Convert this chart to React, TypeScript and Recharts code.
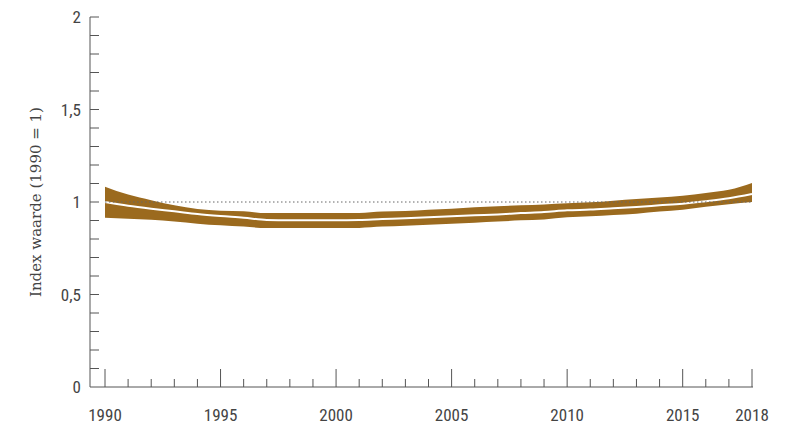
import React from 'react'
import {
  ComposedChart, Area, Line, XAxis, YAxis, ReferenceLine,
} from 'recharts'

const years = [
  1990, 1991, 1992, 1993, 1994, 1995, 1996, 1997, 1998, 1999,
  2000, 2001, 2002, 2003, 2004, 2005, 2006, 2007, 2008, 2009,
  2010, 2011, 2012, 2013, 2014, 2015, 2016, 2017, 2018,
]
const upper = [
  1.083, 1.04, 1.01, 0.982, 0.962, 0.953, 0.95, 0.94, 0.94, 0.94,
  0.94, 0.94, 0.948, 0.951, 0.958, 0.964, 0.971, 0.977, 0.982, 0.987,
  0.993, 0.998, 1.007, 1.016, 1.025, 1.034, 1.049, 1.066, 1.103,
]
const central = [
  1.0, 0.98, 0.964, 0.95, 0.935, 0.924, 0.915, 0.903, 0.901, 0.901,
  0.901, 0.903, 0.908, 0.912, 0.917, 0.923, 0.928, 0.933, 0.94, 0.946,
  0.955, 0.959, 0.966, 0.973, 0.982, 0.991, 1.004, 1.02, 1.043,
]
const lower = [
  0.915, 0.91, 0.904, 0.894, 0.883, 0.874, 0.867, 0.859, 0.859, 0.859,
  0.859, 0.86, 0.867, 0.872, 0.877, 0.883, 0.888, 0.894, 0.901, 0.906,
  0.917, 0.923, 0.93, 0.937, 0.948, 0.958, 0.975, 0.988, 1.0,
]
const xLabels = [1990, 1995, 2000, 2005, 2010, 2015, 2018]
const yTicks = [0, 0.1, 0.2, 0.3, 0.4, 0.5, 0.6, 0.7, 0.8, 0.9, 1, 1.1, 1.2, 1.3, 1.4, 1.5, 1.6, 1.7, 1.8, 1.9, 2]
const yLabels = [0, 0.5, 1, 1.5, 2]

const data = years.map((year, i) => ({
  year,
  band: [lower[i], upper[i]],
  central: central[i],
}))

const BROWN = '#9B6A1E'
const AXIS = '#555'
const TEXT = '#444'
const tickFont = "'Liberation Sans Narrow', 'Roboto Condensed', Roboto, sans-serif"

function XTick({ x, y, payload }: any) {
  const v = payload.value
  const major = xLabels.includes(v)
  return (
    <g>
      <line x1={x} x2={x} y1={y} y2={y - (major ? 18 : 8)} stroke={AXIS} strokeWidth={1} />
      {major && (
        <text x={x} y={y + 34} textAnchor="middle" fill={TEXT} fontSize={17} fontFamily={tickFont}>
          {v}
        </text>
      )}
    </g>
  )
}

function YTick({ x, y, payload }: any) {
  const v = payload.value
  const labelled = yLabels.some(l => Math.abs(l - v) < 1e-6)
  return (
    <g>
      {v > 0 && <line x1={x} x2={x + 9} y1={y} y2={y} stroke={AXIS} strokeWidth={1} />}
      {labelled && (
        <text x={x - 9} y={y + 6} textAnchor="end" fill={TEXT} fontSize={17} fontFamily={tickFont}>
          {String(v).replace('.', ',')}
        </text>
      )}
    </g>
  )
}

export default function App() {
  return (
    <div style={{ position: 'absolute', left: 0, top: 0, width: 791, height: 424, background: '#fff' }}>
      <ComposedChart
        width={791}
        height={424}
        data={data}
        margin={{ top: 17, right: 38, bottom: 0, left: 0 }}
      >
        <XAxis
          dataKey="year"
          type="number"
          domain={[1990, 2018]}
          ticks={years}
          interval={0}
          padding={{ left: 15, right: 1 }}
          height={37}
          tickSize={0}
          tickMargin={0}
          tickLine={false}
          axisLine={{ stroke: AXIS, strokeWidth: 1 }}
          tick={<XTick />}
        />
        <YAxis
          type="number"
          domain={[0, 2]}
          ticks={yTicks}
          interval={0}
          width={90}
          tickSize={0}
          tickMargin={0}
          tickLine={false}
          axisLine={{ stroke: AXIS, strokeWidth: 1 }}
          tick={<YTick />}
          label={(props: any) => {
            const vb = props.viewBox || { x: 0, y: 17, width: 90, height: 370 }
            const cx = 41
            const cy = vb.y + vb.height / 2
            return (
              <text
                x={cx}
                y={cy}
                transform={`rotate(-90, ${cx}, ${cy})`}
                textAnchor="middle"
                fill={TEXT}
                fontSize={15}
                fontFamily="'DejaVu Serif', 'Liberation Serif', serif"
              >
                Index waarde (1990 = 1)
              </text>
            )
          }}
        />
        <Area
          dataKey="band"
          type="monotone"
          fill={BROWN}
          fillOpacity={1}
          stroke="none"
          isAnimationActive={false}
        />
        <Line
          dataKey="central"
          type="monotone"
          stroke="#fff"
          strokeWidth={2}
          dot={false}
          activeDot={false}
          isAnimationActive={false}
        />
        <ReferenceLine
          segment={[{ x: 1990, y: 1 }, { x: 2018, y: 1 }]}
          stroke="#666"
          strokeWidth={1}
          strokeDasharray="1.5 2.5"
        />
      </ComposedChart>
    </div>
  )
}
